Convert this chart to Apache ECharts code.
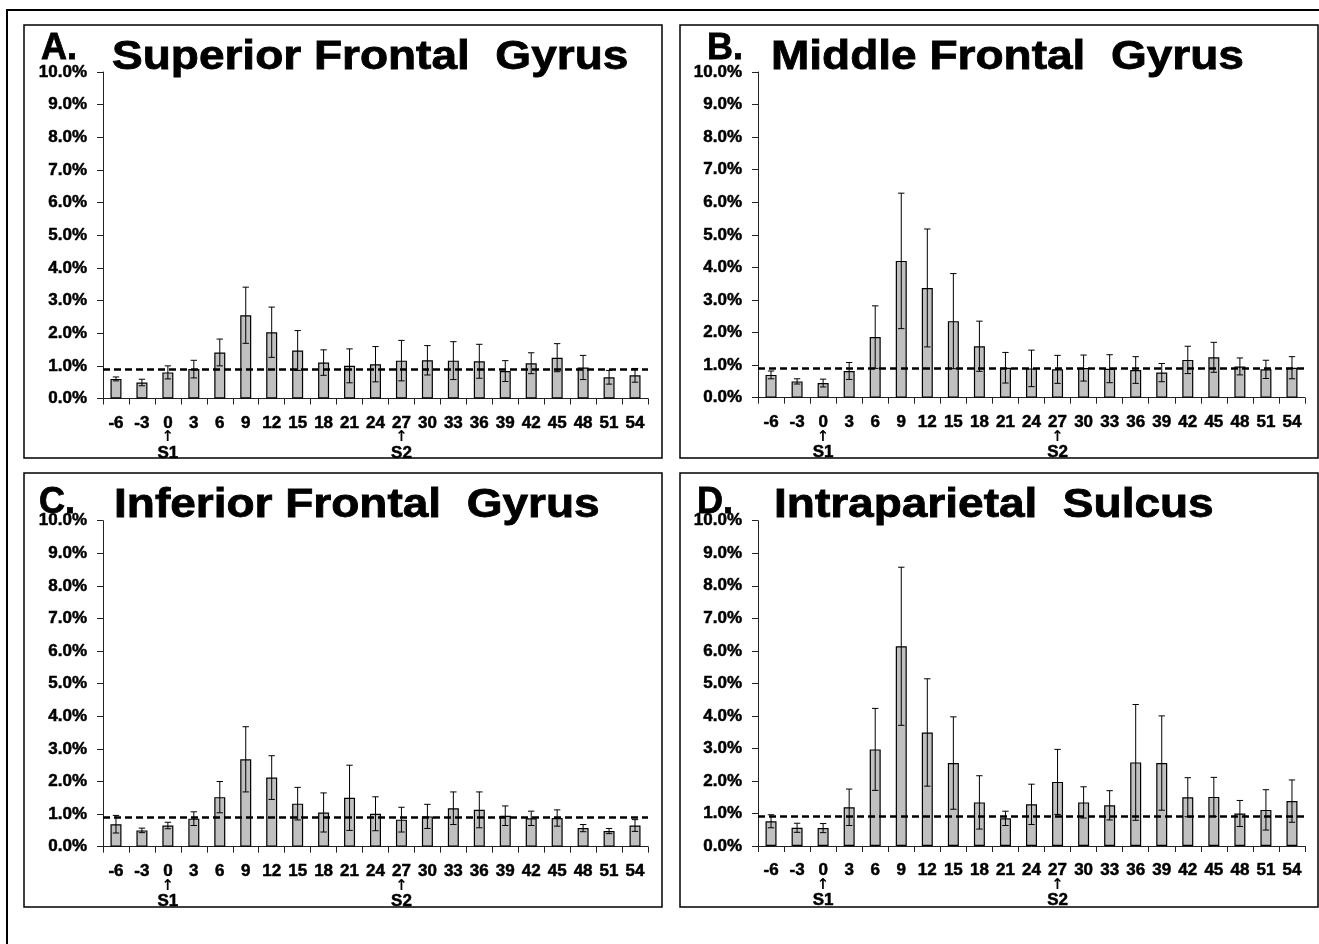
<!DOCTYPE html>
<html><head><meta charset="utf-8">
<script src="https://cdn.jsdelivr.net/npm/echarts@6/dist/echarts.min.js"></script>
<style>html,body{margin:0;padding:0;background:#fff}#c{width:1319px;height:944px}</style>
</head><body><div id="c"></div>
<script>
// ---------- data ----------
const categories = ['-6','-3','0','3','6','9','12','15','18','21','24','27','30','33','36','39','42','45','48','51','54'];
const stimulusMarks = {'0':'S1','27':'S2'};
const panelLetters = ['A.','B.','C.','D.'];
const panelTitles = ['Superior Frontal  Gyrus','Middle Frontal  Gyrus','Inferior Frontal  Gyrus','Intraparietal  Sulcus'];
const yTickMax = 10;
const yTickStep = 1;
const chanceLevel = 0.9;

const meanSFG = [0.60,0.49,0.80,0.90,1.41,2.55,2.03,1.47,1.10,1.00,1.05,1.16,1.17,1.16,1.14,0.84,1.08,1.25,0.95,0.65,0.71];
const semSFG  = [0.06,0.10,0.20,0.27,0.41,0.86,0.77,0.61,0.39,0.52,0.54,0.62,0.45,0.58,0.52,0.32,0.32,0.43,0.37,0.21,0.21];
const meanMFG = [0.70,0.50,0.45,0.82,1.86,4.20,3.37,2.35,1.58,0.92,0.90,0.87,0.91,0.89,0.85,0.77,1.16,1.24,0.96,0.87,0.92];
const semMFG  = [0.12,0.08,0.12,0.26,0.96,2.08,1.81,1.46,0.77,0.47,0.56,0.43,0.40,0.43,0.41,0.28,0.42,0.46,0.26,0.28,0.34];
const meanIFG = [0.69,0.50,0.65,0.86,1.52,2.68,2.12,1.32,1.05,1.50,1.01,0.83,0.93,1.18,1.13,0.95,0.87,0.88,0.57,0.48,0.65];
const semIFG  = [0.27,0.07,0.10,0.21,0.48,1.00,0.67,0.50,0.60,1.00,0.52,0.38,0.37,0.50,0.55,0.30,0.22,0.25,0.11,0.08,0.18];
const meanIPS = [0.76,0.56,0.55,1.19,2.97,6.14,3.49,2.55,1.34,0.85,1.28,1.97,1.34,1.25,2.57,2.55,1.50,1.51,1.00,1.11,1.38];
const semIPS  = [0.20,0.14,0.14,0.56,1.26,2.43,1.65,1.42,0.82,0.22,0.62,1.00,0.48,0.45,1.78,1.45,0.60,0.60,0.40,0.62,0.65];

const panelMeans = [meanSFG, meanMFG, meanIFG, meanIPS];
const panelSems  = [semSFG, semMFG, semIFG, semIPS];

// ---------- layout ----------
const FONT = '"Liberation Sans", Arial, Helvetica, sans-serif';
const grids = [
  {left:103, top:72,  width:545, height:326.5},
  {left:758, top:72,  width:547, height:325.7},
  {left:103, top:520.7, width:545, height:326},
  {left:758, top:520.7, width:547, height:325.3}
];
const boxes = [[24,25,638,433],[680,25,638,433],[24,473,638,434],[680,473,638,434]];
const letterPos = [[41,49],[707,49],[39,503],[697,503]];
const titlePos  = [[112,58],[771,58],[114,506],[774,506]];
const heavy = {textBorderColor:'#000', textBorderWidth:0.5};

const xAxes = [], yAxes = [], series = [];
grids.forEach((g, i) => {
  xAxes.push({
    type:'category', gridIndex:i, data:categories,
    axisLine:{show:true, lineStyle:{color:'#222', width:1}},
    axisTick:{show:true, length:6, lineStyle:{color:'#222', width:1}},
    axisLabel:{
      interval:0, margin:16, color:'#000', fontFamily:FONT, fontWeight:'bold', fontSize:17, lineHeight:17,
      formatter: v => stimulusMarks[v] ? '{n|' + v + '}\n{ar|\u2191}\n{s|' + stimulusMarks[v] + '}' : '{n|' + v + '}',
      rich:{
        n:Object.assign({fontFamily:FONT, fontWeight:'bold', fontSize:17, lineHeight:17, color:'#000'}, heavy),
        ar:{fontFamily:'"DejaVu Sans", sans-serif', fontWeight:'bold', fontSize:15, lineHeight:12, color:'#000'},
        s:Object.assign({fontFamily:FONT, fontWeight:'bold', fontSize:17, lineHeight:19, color:'#000'}, heavy)
      }
    },
    splitLine:{show:false}
  });
  yAxes.push({
    type:'value', gridIndex:i, min:0, max:yTickMax, interval:yTickStep,
    axisLine:{show:true, lineStyle:{color:'#222', width:1}},
    axisTick:{show:true, length:6, lineStyle:{color:'#222', width:1}},
    axisLabel:Object.assign({margin:16, color:'#000', fontFamily:FONT, fontWeight:'bold', fontSize:17,
      formatter: v => v.toFixed(1) + '%'}, heavy),
    splitLine:{show:false}
  });
  const mean = panelMeans[i], sem = panelSems[i];
  series.push({
    type:'bar', xAxisIndex:i, yAxisIndex:i, data:mean, barWidth:11,
    itemStyle:{color:'#c0c0c0', borderColor:'#000', borderWidth:1.2},
    emphasis:{disabled:true}, silent:true,
    markLine:{
      silent:true, symbol:'none', label:{show:false},
      lineStyle:{type:[7,4], color:'#000', width:2.6},
      data:[{yAxis:chanceLevel}]
    },
    z:2
  });
  series.push({
    type:'custom', xAxisIndex:i, yAxisIndex:i,
    data: categories.map((c, k) => [k, mean[k], sem[k]]),
    encode:{x:0, y:1},
    silent:true, z:3,
    renderItem:(params, api) => {
      const x = api.value(0), m = api.value(1), e = api.value(2);
      const t = api.coord([x, m + e]);
      const b = api.coord([x, m - e]);
      const hw = 3.2;
      const st = {stroke:'#000', lineWidth:1};
      return {type:'group', children:[
        {type:'line', shape:{x1:t[0], y1:t[1], x2:b[0], y2:b[1]}, style:st},
        {type:'line', shape:{x1:t[0]-hw, y1:t[1], x2:t[0]+hw, y2:t[1]}, style:st},
        {type:'line', shape:{x1:b[0]-hw, y1:b[1], x2:b[0]+hw, y2:b[1]}, style:st}
      ]};
    }
  });
});

const graphics = [
  {type:'rect', shape:{x:7, y:10, width:1330, height:960}, style:{fill:'none', stroke:'#000', lineWidth:2}, silent:true}
];
boxes.forEach(bx => graphics.push({type:'rect', shape:{x:bx[0], y:bx[1], width:bx[2], height:bx[3]},
  style:{fill:'none', stroke:'#000', lineWidth:1.5}, silent:true}));
panelLetters.forEach((t, i) => graphics.push({type:'text', x:letterPos[i][0], y:letterPos[i][1],
  style:{text:t, font:'bold 36px ' + FONT, fill:'#000', stroke:'#000', lineWidth:0.8, align:'left', verticalAlign:'middle'}, silent:true}));
panelTitles.forEach((t, i) => graphics.push({type:'text', x:titlePos[i][0], y:titlePos[i][1], scaleX:1.15,
  style:{text:t, font:'bold 40px ' + FONT, fill:'#000', stroke:'#000', lineWidth:0.8, align:'left', verticalAlign:'middle'}, silent:true}));

const chart = echarts.init(document.getElementById('c'), null, {renderer:'canvas'});
chart.setOption({
  animation:false,
  backgroundColor:'#fff',
  grid: grids,
  xAxis: xAxes,
  yAxis: yAxes,
  series: series,
  graphic: graphics
});
</script>
</body></html>
